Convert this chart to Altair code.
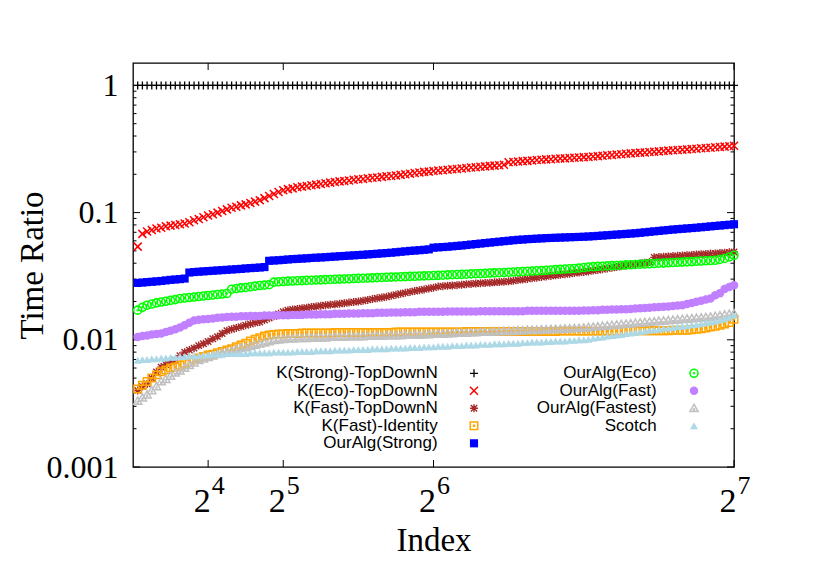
import altair as alt
import pandas as pd

# ---------------- data ----------------
index = list(range(1, 129))

series_names = ["K(Strong)-TopDownN", "K(Eco)-TopDownN", "K(Fast)-TopDownN",
                "K(Fast)-Identity", "OurAlg(Strong)", "OurAlg(Eco)",
                "OurAlg(Fast)", "OurAlg(Fastest)", "Scotch"]

k_strong_topdown = [
    1, 1, 1, 1, 1, 1, 1, 1, 1, 1, 1, 1, 1, 1, 1, 1, 1, 1, 1, 1,
    1, 1, 1, 1, 1, 1, 1, 1, 1, 1, 1, 1, 1, 1, 1, 1, 1, 1, 1, 1,
    1, 1, 1, 1, 1, 1, 1, 1, 1, 1, 1, 1, 1, 1, 1, 1, 1, 1, 1, 1,
    1, 1, 1, 1, 1, 1, 1, 1, 1, 1, 1, 1, 1, 1, 1, 1, 1, 1, 1, 1,
    1, 1, 1, 1, 1, 1, 1, 1, 1, 1, 1, 1, 1, 1, 1, 1, 1, 1, 1, 1,
    1, 1, 1, 1, 1, 1, 1, 1, 1, 1, 1, 1, 1, 1, 1, 1, 1, 1, 1, 1,
    1, 1, 1, 1, 1, 1, 1, 1]

k_eco_topdown = [
    0.054, 0.068, 0.071, 0.073, 0.075, 0.076, 0.078, 0.079, 0.080, 0.081,
    0.082, 0.084, 0.087, 0.089, 0.092, 0.095, 0.097, 0.100, 0.103, 0.106,
    0.109, 0.111, 0.114, 0.116, 0.119, 0.122, 0.125, 0.130, 0.135, 0.140,
    0.145, 0.150, 0.153, 0.155, 0.158, 0.160, 0.162, 0.164, 0.166, 0.168,
    0.170, 0.172, 0.174, 0.176, 0.177, 0.179, 0.181, 0.183, 0.184, 0.186,
    0.188, 0.189, 0.191, 0.193, 0.194, 0.196, 0.198, 0.200, 0.202, 0.205,
    0.207, 0.209, 0.210, 0.212, 0.214, 0.215, 0.217, 0.219, 0.220, 0.222,
    0.224, 0.226, 0.227, 0.229, 0.231, 0.233, 0.234, 0.236, 0.238, 0.249,
    0.250, 0.252, 0.254, 0.255, 0.257, 0.259, 0.260, 0.262, 0.263, 0.265,
    0.266, 0.267, 0.269, 0.270, 0.271, 0.273, 0.274, 0.276, 0.278, 0.280,
    0.282, 0.284, 0.286, 0.288, 0.290, 0.292, 0.294, 0.296, 0.297, 0.299,
    0.301, 0.303, 0.305, 0.307, 0.309, 0.311, 0.312, 0.314, 0.316, 0.318,
    0.320, 0.322, 0.324, 0.326, 0.328, 0.330, 0.332, 0.335]

k_fast_topdown = [
    0.0040, 0.0043, 0.0045, 0.0050, 0.0056, 0.0061, 0.0064, 0.0067, 0.0069, 0.0075,
    0.0080, 0.0083, 0.0086, 0.0090, 0.0093, 0.0097, 0.0102, 0.0106, 0.0112, 0.0118,
    0.0121, 0.0124, 0.0127, 0.0130, 0.0133, 0.0136, 0.0138, 0.0143, 0.0148, 0.0153,
    0.0160, 0.0166, 0.0171, 0.0173, 0.0175, 0.0177, 0.0179, 0.0181, 0.0183, 0.0185,
    0.0187, 0.0189, 0.0190, 0.0192, 0.0194, 0.0196, 0.0198, 0.0200, 0.0203, 0.0206,
    0.0209, 0.0212, 0.0215, 0.0218, 0.0222, 0.0226, 0.0230, 0.0234, 0.0238, 0.0242,
    0.0245, 0.0249, 0.0253, 0.0257, 0.0262, 0.0264, 0.0266, 0.0267, 0.0269, 0.0271,
    0.0273, 0.0275, 0.0277, 0.0278, 0.0280, 0.0281, 0.0283, 0.0285, 0.0286, 0.0288,
    0.0291, 0.0295, 0.0298, 0.0301, 0.0305, 0.0308, 0.0311, 0.0315, 0.0318, 0.0321,
    0.0325, 0.0328, 0.0331, 0.0335, 0.0338, 0.0341, 0.0345, 0.0350, 0.0354, 0.0359,
    0.0364, 0.0368, 0.0373, 0.0378, 0.0383, 0.0388, 0.0393, 0.0398, 0.0403, 0.0408,
    0.0445, 0.0447, 0.0450, 0.0452, 0.0455, 0.0457, 0.0460, 0.0462, 0.0465, 0.0468,
    0.0470, 0.0473, 0.0476, 0.0478, 0.0481, 0.0484, 0.0487, 0.0490]

k_fast_identity = [
    0.0041, 0.0044, 0.0047, 0.0050, 0.0053, 0.0056, 0.0058, 0.0060, 0.0061, 0.0063,
    0.0065, 0.0067, 0.0070, 0.0072, 0.0074, 0.0076, 0.0077, 0.0079, 0.0081, 0.0083,
    0.0085, 0.0088, 0.0091, 0.0094, 0.0098, 0.0101, 0.0104, 0.0107, 0.0109, 0.0110,
    0.0111, 0.0111, 0.0112, 0.0112, 0.0112, 0.0113, 0.0113, 0.0113, 0.0113, 0.0113,
    0.0113, 0.0113, 0.0114, 0.0114, 0.0114, 0.0114, 0.0114, 0.0114, 0.0114, 0.0114,
    0.0114, 0.0114, 0.0114, 0.0114, 0.0114, 0.0115, 0.0115, 0.0115, 0.0115, 0.0115,
    0.0115, 0.0115, 0.0115, 0.0115, 0.0115, 0.0115, 0.0115, 0.0115, 0.0115, 0.0115,
    0.0116, 0.0116, 0.0116, 0.0116, 0.0116, 0.0116, 0.0116, 0.0116, 0.0116, 0.0116,
    0.0116, 0.0116, 0.0116, 0.0116, 0.0116, 0.0116, 0.0116, 0.0116, 0.0116, 0.0116,
    0.0117, 0.0117, 0.0117, 0.0117, 0.0117, 0.0117, 0.0117, 0.0117, 0.0117, 0.0117,
    0.0117, 0.0117, 0.0117, 0.0117, 0.0118, 0.0118, 0.0118, 0.0118, 0.0118, 0.0118,
    0.0118, 0.0118, 0.0118, 0.0118, 0.0119, 0.0119, 0.0119, 0.0119, 0.0120, 0.0121,
    0.0122, 0.0124, 0.0126, 0.0128, 0.0130, 0.0133, 0.0137, 0.0145]

ouralg_strong = [
    0.0280, 0.0282, 0.0284, 0.0286, 0.0288, 0.0290, 0.0293, 0.0296, 0.0298, 0.0300,
    0.0303, 0.0338, 0.0341, 0.0343, 0.0345, 0.0347, 0.0349, 0.0351, 0.0353, 0.0355,
    0.0357, 0.0359, 0.0361, 0.0364, 0.0366, 0.0368, 0.0370, 0.0373, 0.0418, 0.0420,
    0.0422, 0.0425, 0.0428, 0.0431, 0.0433, 0.0435, 0.0437, 0.0440, 0.0442, 0.0444,
    0.0446, 0.0449, 0.0451, 0.0454, 0.0456, 0.0459, 0.0461, 0.0464, 0.0466, 0.0469,
    0.0472, 0.0475, 0.0478, 0.0481, 0.0484, 0.0488, 0.0492, 0.0496, 0.0500, 0.0503,
    0.0506, 0.0510, 0.0514, 0.0530, 0.0533, 0.0536, 0.0539, 0.0543, 0.0547, 0.0551,
    0.0556, 0.0561, 0.0566, 0.0571, 0.0576, 0.0581, 0.0586, 0.0591, 0.0596, 0.0601,
    0.0606, 0.0611, 0.0614, 0.0618, 0.0621, 0.0624, 0.0627, 0.0630, 0.0632, 0.0634,
    0.0636, 0.0638, 0.0640, 0.0642, 0.0644, 0.0646, 0.0649, 0.0652, 0.0656, 0.0660,
    0.0664, 0.0668, 0.0672, 0.0676, 0.0680, 0.0684, 0.0688, 0.0694, 0.0700, 0.0706,
    0.0712, 0.0718, 0.0724, 0.0730, 0.0736, 0.0741, 0.0746, 0.0751, 0.0756, 0.0761,
    0.0767, 0.0773, 0.0779, 0.0785, 0.0791, 0.0797, 0.0803, 0.0810]

ouralg_eco = [
    0.0171, 0.0180, 0.0187, 0.0191, 0.0195, 0.0198, 0.0201, 0.0204, 0.0207, 0.0211,
    0.0213, 0.0215, 0.0217, 0.0219, 0.0221, 0.0223, 0.0225, 0.0227, 0.0229, 0.0231,
    0.0250, 0.0253, 0.0256, 0.0258, 0.0261, 0.0264, 0.0267, 0.0269, 0.0271, 0.0284,
    0.0286, 0.0287, 0.0289, 0.0290, 0.0291, 0.0292, 0.0293, 0.0294, 0.0295, 0.0296,
    0.0297, 0.0298, 0.0299, 0.0300, 0.0301, 0.0302, 0.0303, 0.0304, 0.0305, 0.0306,
    0.0307, 0.0308, 0.0309, 0.0310, 0.0311, 0.0312, 0.0313, 0.0314, 0.0315, 0.0316,
    0.0317, 0.0318, 0.0319, 0.0320, 0.0321, 0.0322, 0.0324, 0.0325, 0.0326, 0.0327,
    0.0328, 0.0330, 0.0331, 0.0332, 0.0333, 0.0335, 0.0336, 0.0337, 0.0338, 0.0340,
    0.0341, 0.0343, 0.0344, 0.0346, 0.0347, 0.0349, 0.0350, 0.0352, 0.0354, 0.0356,
    0.0358, 0.0360, 0.0362, 0.0364, 0.0366, 0.0370, 0.0374, 0.0376, 0.0378, 0.0379,
    0.0381, 0.0383, 0.0384, 0.0386, 0.0388, 0.0389, 0.0391, 0.0393, 0.0394, 0.0396,
    0.0398, 0.0400, 0.0401, 0.0403, 0.0405, 0.0407, 0.0408, 0.0410, 0.0412, 0.0414,
    0.0416, 0.0418, 0.0420, 0.0422, 0.0428, 0.0436, 0.0448, 0.0462]

ouralg_fast = [
    0.0105, 0.0107, 0.0108, 0.0110, 0.0111, 0.0112, 0.0115, 0.0118, 0.0121, 0.0125,
    0.0130, 0.0136, 0.0142, 0.0144, 0.0145, 0.0146, 0.0147, 0.0149, 0.0150, 0.0151,
    0.0152, 0.0152, 0.0153, 0.0153, 0.0154, 0.0154, 0.0154, 0.0155, 0.0155, 0.0155,
    0.0156, 0.0156, 0.0156, 0.0157, 0.0157, 0.0157, 0.0158, 0.0158, 0.0158, 0.0159,
    0.0159, 0.0159, 0.0160, 0.0160, 0.0160, 0.0161, 0.0161, 0.0161, 0.0162, 0.0162,
    0.0162, 0.0163, 0.0163, 0.0163, 0.0164, 0.0164, 0.0164, 0.0165, 0.0165, 0.0165,
    0.0166, 0.0166, 0.0166, 0.0166, 0.0166, 0.0166, 0.0167, 0.0167, 0.0167, 0.0167,
    0.0167, 0.0167, 0.0167, 0.0168, 0.0168, 0.0168, 0.0168, 0.0168, 0.0168, 0.0168,
    0.0168, 0.0168, 0.0168, 0.0169, 0.0169, 0.0169, 0.0169, 0.0169, 0.0169, 0.0169,
    0.0169, 0.0169, 0.0169, 0.0169, 0.0169, 0.0170, 0.0170, 0.0171, 0.0171, 0.0172,
    0.0172, 0.0173, 0.0173, 0.0174, 0.0174, 0.0175, 0.0176, 0.0177, 0.0178, 0.0179,
    0.0180, 0.0181, 0.0182, 0.0183, 0.0184, 0.0186, 0.0187, 0.0191, 0.0195, 0.0199,
    0.0203, 0.0207, 0.0211, 0.0224, 0.0232, 0.0251, 0.0260, 0.0268]

ouralg_fastest = [
    0.0033, 0.0035, 0.0037, 0.0040, 0.0043, 0.0047, 0.0049, 0.0052, 0.0055, 0.0057,
    0.0060, 0.0063, 0.0066, 0.0069, 0.0071, 0.0073, 0.0075, 0.0077, 0.0079, 0.0080,
    0.0082, 0.0084, 0.0086, 0.0087, 0.0089, 0.0091, 0.0093, 0.0095, 0.0097, 0.0099,
    0.0100, 0.0101, 0.0102, 0.0102, 0.0103, 0.0103, 0.0103, 0.0104, 0.0104, 0.0104,
    0.0104, 0.0105, 0.0105, 0.0105, 0.0105, 0.0106, 0.0106, 0.0106, 0.0106, 0.0107,
    0.0107, 0.0107, 0.0107, 0.0108, 0.0108, 0.0108, 0.0108, 0.0109, 0.0109, 0.0109,
    0.0109, 0.0110, 0.0110, 0.0111, 0.0111, 0.0111, 0.0112, 0.0112, 0.0113, 0.0113,
    0.0113, 0.0114, 0.0114, 0.0115, 0.0115, 0.0115, 0.0116, 0.0116, 0.0117, 0.0117,
    0.0117, 0.0118, 0.0118, 0.0119, 0.0119, 0.0119, 0.0120, 0.0120, 0.0121, 0.0121,
    0.0121, 0.0122, 0.0122, 0.0123, 0.0123, 0.0124, 0.0125, 0.0126, 0.0127, 0.0128,
    0.0129, 0.0130, 0.0131, 0.0132, 0.0133, 0.0134, 0.0135, 0.0136, 0.0137, 0.0138,
    0.0139, 0.0140, 0.0141, 0.0142, 0.0143, 0.0144, 0.0145, 0.0146, 0.0147, 0.0148,
    0.0149, 0.0150, 0.0151, 0.0153, 0.0155, 0.0157, 0.0159, 0.0161]

scotch = [
    0.0069, 0.0070, 0.0070, 0.0071, 0.0071, 0.0072, 0.0072, 0.0073, 0.0073, 0.0074,
    0.0074, 0.0075, 0.0075, 0.0075, 0.0076, 0.0076, 0.0077, 0.0077, 0.0077, 0.0078,
    0.0078, 0.0078, 0.0078, 0.0078, 0.0079, 0.0079, 0.0079, 0.0079, 0.0079, 0.0080,
    0.0080, 0.0080, 0.0080, 0.0080, 0.0081, 0.0081, 0.0081, 0.0081, 0.0082, 0.0082,
    0.0082, 0.0082, 0.0083, 0.0083, 0.0083, 0.0083, 0.0084, 0.0084, 0.0084, 0.0084,
    0.0085, 0.0085, 0.0085, 0.0085, 0.0086, 0.0086, 0.0086, 0.0086, 0.0087, 0.0087,
    0.0087, 0.0088, 0.0088, 0.0088, 0.0089, 0.0089, 0.0089, 0.0090, 0.0090, 0.0090,
    0.0091, 0.0091, 0.0091, 0.0092, 0.0092, 0.0092, 0.0093, 0.0093, 0.0093, 0.0094,
    0.0094, 0.0094, 0.0095, 0.0095, 0.0096, 0.0096, 0.0096, 0.0097, 0.0097, 0.0098,
    0.0098, 0.0098, 0.0099, 0.0099, 0.0100, 0.0100, 0.0101, 0.0103, 0.0104, 0.0105,
    0.0107, 0.0108, 0.0109, 0.0110, 0.0112, 0.0113, 0.0114, 0.0116, 0.0117, 0.0119,
    0.0120, 0.0121, 0.0123, 0.0124, 0.0125, 0.0127, 0.0128, 0.0129, 0.0131, 0.0132,
    0.0134, 0.0136, 0.0138, 0.0140, 0.0143, 0.0146, 0.0150, 0.0156]

series_values = [k_strong_topdown, k_eco_topdown, k_fast_topdown, k_fast_identity,
                 ouralg_strong, ouralg_eco, ouralg_fast, ouralg_fastest, scotch]

x_tick_values = [16, 32, 64, 128]
x_tick_bases = ["2", "2", "2", "2"]
x_tick_exponents = ["4", "5", "6", "7"]
y_major_ticks = [0.001, 0.01, 0.1, 1]
y_minor_ticks = [0.002, 0.003, 0.004, 0.005, 0.006, 0.007, 0.008, 0.009,
                 0.02, 0.03, 0.04, 0.05, 0.06, 0.07, 0.08, 0.09,
                 0.2, 0.3, 0.4, 0.5, 0.6, 0.7, 0.8, 0.9]

# ---------------- styling ----------------
W, H = 601, 404
SERIF = "Liberation Serif"
SANS = "Liberation Sans"

PLUS = "M-1,0H1M0,-1V1"
CROSS = "M-1,-1L1,1M-1,1L1,-1"
STAR = "M-1,0H1M0,-1V1M-0.8,-0.8L0.8,0.8M-0.8,0.8L0.8,-0.8"
SQ_DOT = "M-1,-1H1V1H-1ZM-0.12,-0.12H0.12V0.12H-0.12Z"
CIRC_DOT = ("M-1,0A1,1,0,1,1,1,0A1,1,0,1,1,-1,0Z"
            "M-0.12,0A0.12,0.12,0,1,1,0.12,0A0.12,0.12,0,1,1,-0.12,0Z")
TRI_DOT = "M0,-1L1,0.8L-1,0.8ZM-0.1,0.2H0.1V0.4H-0.1Z"

# shape, filled, color, size, strokeWidth
styles = [
    (PLUS, False, "#000000", 64, 1.3),
    (CROSS, False, "#ff0000", 64, 1.5),
    (STAR, False, "#a52a2a", 64, 1.4),
    (SQ_DOT, False, "#ffa500", 56, 1.5),
    ("square", True, "#0000ff", 66, 0),
    (CIRC_DOT, False, "#00ff00", 64, 1.6),
    ("circle", True, "#c080ff", 72, 0),
    (TRI_DOT, False, "#c0c0c0", 66, 1.5),
    ("triangle-up", True, "#add8e6", 64, 0),
]

xs = alt.Scale(domain=[0, 128], nice=False, zero=False)
ys = alt.Scale(type="log", domain=[0.001, 1.5], nice=False)

xaxis = alt.Axis(title="Index", labels=False, ticks=False, domain=False, grid=False,
                 titleFont=SERIF, titleFontSize=33, titleFontWeight="normal",
                 titleColor="black", titleY=83, titleBaseline="alphabetic")
yaxis = alt.Axis(title="Time Ratio", values=y_major_ticks, format="~g",
                 ticks=False, tickSize=0, domain=False, grid=False,
                 labelFont=SERIF, labelFontSize=32, labelColor="black",
                 labelPadding=15,
                 titleFont=SERIF, titleFontSize=33, titleFontWeight="normal",
                 titleColor="black", titleX=-91, titleY=202,
                 titleBaseline="alphabetic", titleAngle=270)

layers = []

# tick marks (inward, on all four sides)
ymaj = pd.DataFrame({"v": y_major_ticks})
ymin = pd.DataFrame({"v": y_minor_ticks})
xt = pd.DataFrame({"t": x_tick_values, "b": x_tick_bases, "e": x_tick_exponents})
for df, ln in ((ymaj, 7), (ymin, 3.5)):
    for x0, x1 in ((0, ln), (W - ln, W)):
        layers.append(alt.Chart(df).mark_rule(color="black", strokeWidth=1).encode(
            y=alt.Y("v:Q", scale=ys, axis=yaxis),
            x=alt.value(x0), x2=alt.value(x1)))
for y0, y1 in ((H - 7, H), (0, 7)):
    layers.append(alt.Chart(xt).mark_rule(color="black", strokeWidth=1).encode(
        x=alt.X("t:Q", scale=xs, axis=xaxis),
        y=alt.value(y0), y2=alt.value(y1)))

# x tick labels 2^k
layers.append(alt.Chart(xt).mark_text(font=SERIF, fontSize=34, align="center",
                                      baseline="alphabetic", dx=-6, color="black").encode(
    x=alt.X("t:Q", scale=xs, axis=xaxis), y=alt.value(449), text="b:N"))
layers.append(alt.Chart(xt).mark_text(font=SERIF, fontSize=26, align="center",
                                      baseline="alphabetic", dx=10, color="black").encode(
    x=alt.X("t:Q", scale=xs, axis=xaxis), y=alt.value(431), text="e:N"))

# legend layout (pixel offsets inside the plot area)
leg_text_x = [304.7, 523.7]
leg_sym_x = [341, 561]
leg_y0, leg_dy = 310.3, 17.5

for k, (name, vals, st) in enumerate(zip(series_names, series_values, styles)):
    shape, filled, color, size, sw = st
    df = pd.DataFrame({"Index": index, "ratio": vals})
    mk = dict(shape=shape, filled=filled, size=size, opacity=1)
    if filled:
        mk.update(fill=color, strokeWidth=0)
    else:
        mk.update(stroke=color, strokeWidth=sw)
    layers.append(alt.Chart(df).mark_point(**mk).encode(
        x=alt.X("Index:Q", scale=xs, axis=xaxis),
        y=alt.Y("ratio:Q", scale=ys, axis=yaxis)))
    col = 0 if k < 5 else 1
    row = k if k < 5 else k - 5
    ly = leg_y0 + leg_dy * row
    ldf = pd.DataFrame({"label": [name]})
    layers.append(alt.Chart(ldf).mark_text(font=SANS, fontSize=17, align="right",
                                           baseline="middle", color="black").encode(
        x=alt.value(leg_text_x[col]), y=alt.value(ly), text="label:N"))
    layers.append(alt.Chart(ldf).mark_point(**mk).encode(
        x=alt.value(leg_sym_x[col]), y=alt.value(ly)))

chart = alt.layer(*layers).properties(
    width=W, height=H,
    autosize=alt.AutoSizeParams(type="none"),
    padding={"left": 125, "top": 55, "right": 88, "bottom": 100},
    background="white",
).configure_view(stroke="black", strokeWidth=1.3)

chart.save("out.html", embed_options={"renderer": "svg", "actions": False})
